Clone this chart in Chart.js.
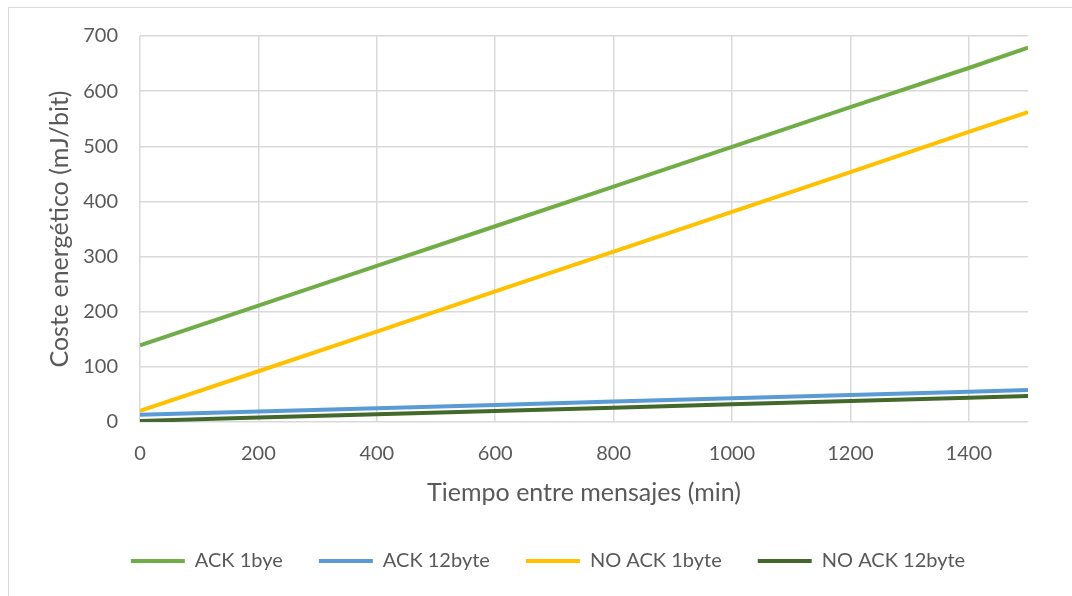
<!DOCTYPE html>
<html>
<head>
<meta charset="utf-8">
<script src="https://cdn.jsdelivr.net/npm/chart.js@4/dist/chart.umd.min.js"></script>
<style>
  html, body { margin: 0; padding: 0; background: #fff; }
  #wrap { width: 1072px; height: 596px; position: relative; }
</style>
</head>
<body>
<div id="wrap"><canvas id="chart"></canvas></div>
<script>
// Tiempo entre mensajes (min)
const tiempos = [0, 200, 400, 600, 800, 1000, 1200, 1400, 1500];
const xTicks = [0, 200, 400, 600, 800, 1000, 1200, 1400];

// Coste energetico (mJ/bit)
const ack1 = [139, 211, 283, 355, 427, 499, 571, 642, 679];
const ack12 = [13, 19, 25, 31, 37, 43, 49, 55, 58];
const noAck1 = [20, 92, 164, 237, 309, 381, 453, 526, 562];
const noAck12 = [2, 8, 14, 20, 26, 32, 38, 44, 47];

const seriesNames = ['ACK 1bye', 'ACK 12byte', 'NO ACK 1byte', 'NO ACK 12byte'];
const seriesColors = ['#70AD47', '#5B9BD5', '#FFC000', '#43682B'];

const textColor = '#595959';
const gridColor = '#D9D9D9';
const fontFamily = 'Lato, "Open Sans", sans-serif';

function toPoints(values) {
    return values.map((v, i) => ({ x: tiempos[i], y: v }));
}

// white background + the thin frame round the chart
const frame = {
    id: 'frame',
    beforeDraw(chart) {
        const ctx = chart.ctx;
        ctx.save();
        ctx.fillStyle = '#fff';
        ctx.fillRect(0, 0, chart.width, chart.height);
        ctx.strokeStyle = gridColor;
        ctx.lineWidth = 1;
        ctx.strokeRect(8.5, 7.5, 1200, 1200);
        ctx.restore();
    }
};

// legend in the original sits a bit right of the plot centre
const legendShift = {
    id: 'legendShift',
    afterLayout(chart) {
        chart.legend.left += 30;
        chart.legend.right += 30;
    }
};

const datasets = [ack1, ack12, noAck1, noAck12].map((vals, i) => ({
    label: seriesNames[i],
    data: toPoints(vals),
    borderColor: seriesColors[i],
    backgroundColor: seriesColors[i],
    borderWidth: 4,
    pointRadius: 0,
    tension: 0
}));

new Chart(document.getElementById('chart'), {
    type: 'line',
    data: { datasets: datasets },
    options: {
        responsive: true,
        maintainAspectRatio: false,
        animation: false,
        layout: { padding: { left: 8, top: 36, right: 44, bottom: 15 } },
        plugins: {
            tooltip: { enabled: false },
            legend: {
                position: 'bottom',
                labels: {
                    color: textColor,
                    font: { family: fontFamily, size: 20 },
                    boxWidth: 54,
                    boxHeight: 4,
                    padding: 36,
                    generateLabels(chart) {
                        const items = Chart.defaults.plugins.legend.labels.generateLabels(chart);
                        items.forEach(it => { it.lineWidth = 0; });
                        return items;
                    }
                }
            }
        },
        scales: {
            x: {
                type: 'linear',
                min: 0,
                max: 1500,
                ticks: {
                    stepSize: 200,
                    includeBounds: false,
                    autoSkip: false,
                    color: textColor,
                    font: { family: fontFamily, size: 20 },
                    padding: 20,
                    maxRotation: 0,
                    callback: v => String(v)
                },
                afterBuildTicks(scale) {
                    scale.ticks = xTicks.map(v => ({ value: v }));
                },
                afterFit(scale) { scale.height = 93; },
                grid: { color: gridColor, lineWidth: 1.5, drawTicks: false },
                border: { display: false },
                title: {
                    display: true,
                    text: 'Tiempo entre mensajes (min)',
                    color: textColor,
                    font: { family: fontFamily, size: 25 },
                    padding: { top: 0, bottom: 7 }
                }
            },
            y: {
                min: 0,
                max: 700,
                ticks: {
                    stepSize: 100,
                    color: textColor,
                    font: { family: fontFamily, size: 20 },
                    padding: 22
                },
                afterFit(scale) { scale.width = 132; },
                grid: { color: gridColor, lineWidth: 1.5, drawTicks: false },
                border: { display: false },
                title: {
                    display: true,
                    text: 'Coste energético (mJ/bit)',
                    color: textColor,
                    font: { family: fontFamily, size: 25 },
                    padding: { top: 37, bottom: 0 }
                }
            }
        }
    },
    plugins: [frame, legendShift]
});
</script>
</body>
</html>
